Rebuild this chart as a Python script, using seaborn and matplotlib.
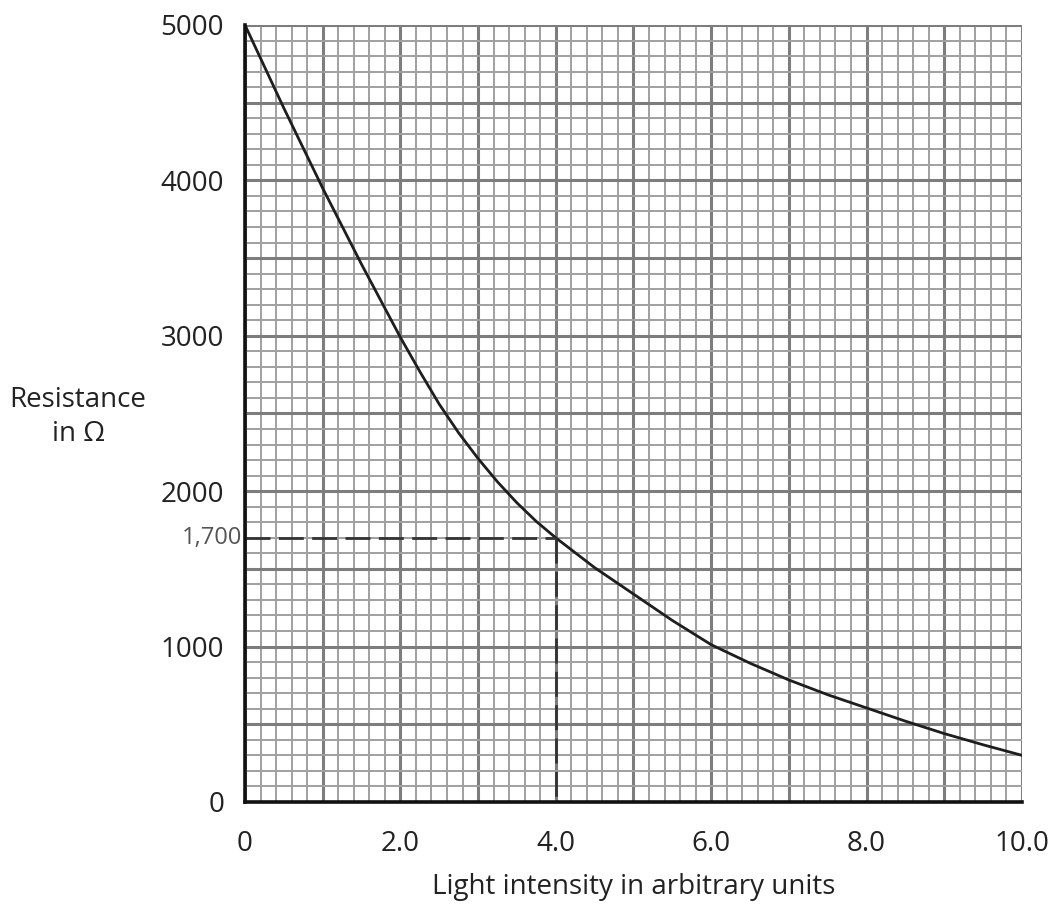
import numpy as np
import pandas as pd
import seaborn as sns
import matplotlib.pyplot as plt
from matplotlib.transforms import offset_copy

# values
light = [0.0, 0.5, 1.0, 1.5, 2.0, 2.25, 2.5, 2.75, 3.0, 3.25, 3.5, 3.75, 4.0,
         4.5, 5.0, 5.5, 6.0, 6.5, 7.0, 7.5, 8.0, 8.5, 9.0, 9.5, 10.0]
resistance = [5000, 4465, 3950, 3460, 2990, 2770, 2560, 2375, 2210, 2060, 1925,
              1805, 1700, 1508, 1338, 1168, 1012, 893, 785, 690, 605, 520, 440,
              368, 300]

# the reading taken from the graph
read_light = 4.0
read_res = 1700
read_label = '1,700'

x_ticks = [0, 2, 4, 6, 8, 10]
x_ticklabels = ['0', '2.0', '4.0', '6.0', '8.0', '10.0']
y_ticks = [0, 1000, 2000, 3000, 4000, 5000]
y_ticklabels = ['0', '1000', '2000', '3000', '4000', '5000']

df = pd.DataFrame({'light': light, 'resistance': resistance})

sns.set_style('white')
plt.rcParams['font.family'] = ['Open Sans', 'DejaVu Sans']

fig = plt.figure(figsize=(10.55, 9.18), dpi=100)
ax = fig.add_axes([0.2322, 0.1264, 0.7365, 0.8464])

ax.set_xlim(0, 10)
ax.set_ylim(0, 5000)

# graph paper
for gx in np.arange(0, 10.001, 0.2):
    major = abs(gx - round(gx)) < 1e-6
    ax.axvline(gx, color='#7d7d7d' if major else '#a0a0a0',
               lw=2.2 if major else 1.4, zorder=1)
for gy in np.arange(0, 5000.1, 100):
    major = int(round(gy)) % 500 == 0
    ax.axhline(gy, color='#7d7d7d' if major else '#a0a0a0',
               lw=2.2 if major else 1.4, zorder=1)

sns.lineplot(data=df, x='light', y='resistance', ax=ax, color='#1e1e1e',
             lw=2.0, zorder=3)

# dashed reading lines
ax.plot([0, read_light], [read_res, read_res], color='#333333', lw=2,
        dashes=(9, 3), zorder=4)
ax.plot([read_light, read_light], [read_res, 0], color='#333333', lw=2,
        dashes=(9, 3), zorder=4)
ax.text(0, read_res, read_label, ha='right', va='center', fontsize=17,
        color='#555555',
        transform=offset_copy(ax.transData, fig=fig, x=-2, y=0, units='points'))

for side in ['top', 'right']:
    ax.spines[side].set_visible(False)
for side in ['left', 'bottom']:
    ax.spines[side].set_color('#111111')
    ax.spines[side].set_linewidth(2.6)
    ax.spines[side].set_zorder(5)

ax.set_xticks(x_ticks)
ax.set_xticklabels(x_ticklabels)
ax.set_yticks(y_ticks)
ax.set_yticklabels(y_ticklabels)
ax.tick_params(axis='both', direction='out', length=12, width=1.8,
               color='#222222', labelsize=20, labelcolor='#222222', pad=3)
ax.tick_params(axis='x', pad=8)

ax.set_xlabel('Light intensity in arbitrary units', fontsize=20,
              color='#222222', labelpad=11)
ax.set_ylabel('')
fig.text(78 / 1055, 1 - 417 / 918, 'Resistance\nin \u03a9', ha='center',
         va='center', fontsize=20, color='#222222', linespacing=1.3)

fig.savefig('out.png', dpi=100)
